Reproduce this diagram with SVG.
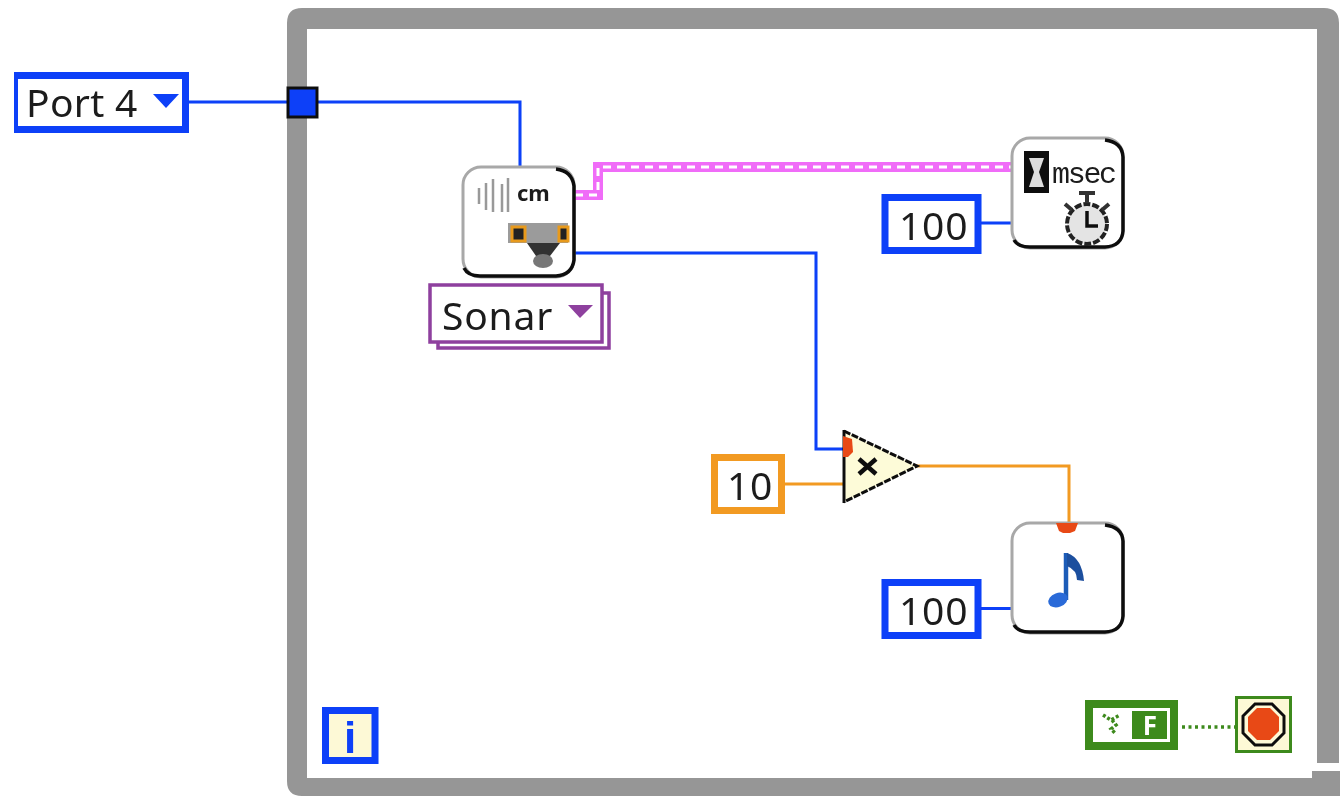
<svg xmlns="http://www.w3.org/2000/svg" width="1340" height="796" viewBox="0 0 1340 796">
<defs><filter id="soft" x="0" y="0" width="100%" height="100%"><feGaussianBlur stdDeviation="0.7"/></filter></defs>
<style>
text{font-family:"Noto Sans","DejaVu Sans",sans-serif;fill:#1a1a1a}
.v{font-size:39px;letter-spacing:.8px}
.w{fill:none;stroke-width:3}
.b{stroke:#0a3ff8}.o{stroke:#f29a22}
.c{fill:#fff;stroke-width:7}
.n{fill:#fff;stroke:#a8a8a8;stroke-width:3}
.s{fill:none;stroke:#111;stroke-width:3.5}
</style>
<rect width="1340" height="796" fill="#fff"/>
<g filter="url(#soft)">
<g id="loop-frame">
<path d="M307 29H1317V763H1339V23Q1339 8 1324 8H302Q287 8 287 23V781Q287 796 302 796H1340V771H1312V778H307Z" fill="#969696"/>
</g>
<g id="connectors">
<path class="w b" d="M188 102H520V166"/>
<path class="w b" d="M575 253H816V449H844"/>
<path class="w b" d="M980 223H1012"/>
<path class="w b" d="M980 608.500H1012"/>
<path class="w o" d="M784 484H844"/>
<path class="w o" d="M916 466H1069V523"/>
<path d="M575 195H598V167H1012" fill="none" stroke="#f06cf8" stroke-width="10"/>
<path d="M575 195H598V167H1012" fill="none" stroke="#fff" stroke-width="3" stroke-dasharray="8 6"/>
<path d="M1182 727H1236" fill="none" stroke="#3d8a1e" stroke-width="3.500" stroke-dasharray="3 3.500"/>
</g>
<g id="port-constant">
<rect class="c b" x="14.500" y="75.500" width="171" height="54"/>
<text class="v" x="26" y="117" style="letter-spacing:.3px">Port 4</text>
<path d="M153 94H179L166 108Z" fill="#0a3ff8"/>
</g>
<g id="tunnel"><rect x="288" y="88" width="29" height="29" fill="#0a3ff8" stroke="#111" stroke-width="3"/></g>
<g id="sonar-sensor">
<rect x="463" y="167" width="111" height="110" rx="18" class="n"/>
<path d="M556 169Q572 171 574 186V260Q572 275 556 276H480Q468 276 464 268" class="s"/>
<path d="M479 188V204M486 183V210M493 179V212M502 184V212M508 178V212" stroke="#999" stroke-width="2.500" fill="none"/>
<text x="517" y="201" font-size="22" font-weight="700">cm</text>
<path d="M508 223H568V243H508Z" fill="#9b9b9b"/>
<rect x="512" y="227" width="13" height="14" fill="#222" stroke="#e89a1e" stroke-width="3"/>
<rect x="559" y="227" width="9" height="14" fill="#222" stroke="#e89a1e" stroke-width="3"/>
<path d="M527 243H560L550 256H536Z" fill="#333"/>
<ellipse cx="543" cy="261" rx="10" ry="7" fill="#777"/>
</g>
<g id="sonar-selector">
<rect x="438" y="293" width="171" height="55" fill="#fff" stroke="#8e3f9e" stroke-width="3.500"/>
<rect x="430" y="285" width="172" height="57" fill="#fff" stroke="#8e3f9e" stroke-width="3.500"/>
<text class="v" x="442" y="330">Sonar</text>
<path d="M568 305H593L580 318Z" fill="#8e3f9e"/>
</g>
<g id="wait-timer">
<rect x="1012" y="138" width="111" height="110" rx="18" class="n"/>
<path d="M1105 140Q1122 142 1123 157V231Q1122 246 1105 247H1030Q1018 247 1014 240" class="s"/>
<rect x="1024" y="151" width="25" height="42" fill="#111"/>
<path d="M1029 158H1044L1039 172L1044 187H1029L1034 172Z" fill="#ddd"/>
<text x="1052" y="183" style="font-family:'Liberation Mono',monospace;font-size:30px;letter-spacing:-2.300px">msec</text>
<circle cx="1087" cy="224" r="20" fill="#e4e4e4" stroke="#222" stroke-width="4" stroke-dasharray="7 2"/>
<path d="M1087 211V226H1098" fill="none" stroke="#111" stroke-width="3.500"/>
<path d="M1079 193H1095M1087 193V203M1065 204L1072 210M1109 204L1102 210" stroke="#333" stroke-width="4" fill="none"/>
</g>
<g id="wait-value">
<rect class="c b" x="885" y="197.500" width="93" height="53"/>
<text class="v" x="899" y="240">100</text>
</g>
<g id="multiply">
<path d="M844 431L917 466L844 502Z" fill="#fdfbd8"/>
<path d="M844 431L917 466L844 502" fill="none" stroke="#111" stroke-width="3" stroke-dasharray="7 1.500"/>
<path d="M844 430V503" stroke="#111" stroke-width="3"/>
<path d="M843 436L852 439L853 452L848 457H843Z" fill="#e84a14"/>
<path d="M859 459L876 474M876 459L859 474" stroke="#111" stroke-width="4.500"/>
</g>
<g id="factor">
<rect class="c o" x="714.500" y="457.500" width="67" height="53"/>
<text class="v" x="727" y="500">10</text>
</g>
<g id="play-tone">
<rect x="1012" y="523" width="111" height="110" rx="18" class="n"/>
<path d="M1105 525Q1122 527 1123 541V616Q1122 631 1105 632H1030Q1018 632 1014 625" class="s"/>
<path d="M1056 523H1078L1075 531L1070 533H1063L1059 531Z" fill="#e84a14"/>
<path d="M1066 553V600" stroke="#1f5bb8" stroke-width="4.500"/>
<path d="M1067 553Q1082 558 1084 581L1077 580Q1077 570 1067 566Z" fill="#1f4f9e"/>
<ellipse cx="1058" cy="600" rx="10" ry="7" fill="#2a6bd8" transform="rotate(-20 1058 600)"/>
</g>
<g id="tone-value">
<rect class="c b" x="885" y="582.500" width="93" height="53"/>
<text class="v" x="899" y="625">100</text>
</g>
<g id="iteration">
<rect x="325.500" y="710.500" width="49.500" height="50" fill="#fdf9d6" stroke="#0a3ff8" stroke-width="7"/>
<text x="350" y="753" text-anchor="middle" style="font-family:'Liberation Sans',sans-serif;font-size:44px;font-weight:700;fill:#0a3ff8">i</text>
</g>
<g id="false-constant">
<rect x="1089" y="704" width="85" height="42" fill="#fff" stroke="#3d8a1e" stroke-width="8"/>
<rect x="1132" y="711" width="35" height="28" fill="#3d8a1e"/>
<text x="1150" y="735" font-size="26" font-weight="700" text-anchor="middle" style="fill:#fff">F</text>
<path d="M1103 715L1111 720L1120 715M1112 720L1116 725L1111 729L1116 734" fill="none" stroke="#3d8a1e" stroke-width="3.500" stroke-dasharray="3 2"/>
</g>
<g id="stop">
<rect x="1236.500" y="697.500" width="54" height="54" fill="#fdf9d6" stroke="#3d8a1e" stroke-width="3"/>
<path d="M1255 704H1272L1284 716V733L1272 745H1255L1243 733V716Z" fill="#fdf9d6" stroke="#111" stroke-width="3"/>
<path d="M1257 708H1270L1279 717V731L1270 740H1257L1248 731V717Z" fill="#e84a14"/>
</g>
</g>
</svg>
